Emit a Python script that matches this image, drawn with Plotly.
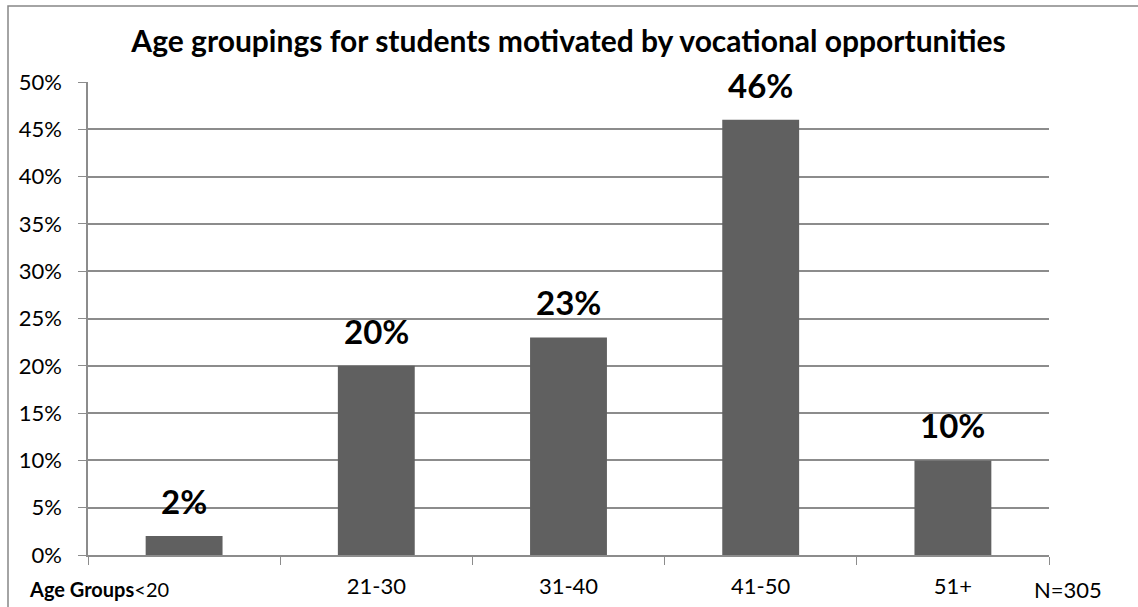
import plotly.graph_objects as go

categories = ["<20", "21-30", "31-40", "41-50", "51+"]
percentages = [2, 20, 23, 46, 10]
y_ticks = [0, 5, 10, 15, 20, 25, 30, 35, 40, 45, 50]
title_text = "Age groupings for students motivated by vocational opportunities"
axis_title = "Age Groups"
sample_note = "N=305"

W, H = 1138, 607
L, R, T, B = 88, 89, 82, 52
pw, ph = W - L - R, H - T - B

def px_x(x):
    return (x - L) / pw

def px_y(y):
    return 1 - (y - T) / ph

FONT = "Lato, Calibri, Carlito, sans-serif"
GRID = "#8c8c8c"
TICK_SIZE = 22

fig = go.Figure(go.Bar(
    x=categories,
    y=percentages,
    marker=dict(color="#606060", line=dict(width=0)),
    width=0.4,
    hoverinfo="x+y",
))

# value labels above each bar
value_labels = [
    dict(
        x=c, y=v, xref="x", yref="y",
        text=f"<b>{v}%</b>",
        xanchor="center", yanchor="bottom",
        yshift=13,
        showarrow=False,
        font=dict(family=FONT, size=33, color="#000000"),
    )
    for c, v in zip(categories, percentages)
]

# first category label sits next to the axis title, so it is drawn as an annotation
ticktext = [""] + categories[1:]

fig.update_layout(
    width=W, height=H,
    margin=dict(l=L, r=R, t=T, b=B, autoexpand=False),
    paper_bgcolor="white",
    plot_bgcolor="white",
    showlegend=False,
    font=dict(family=FONT, size=TICK_SIZE, color="#000000"),
    title=dict(
        text=f"<b>{title_text}</b>",
        x=0.5, xref="paper", xanchor="center",
        y=1 - 41 / H, yanchor="middle",
        font=dict(family=FONT, size=30, color="#000000"),
    ),
    xaxis=dict(
        type="category",
        automargin=False,
        tickmode="array",
        tickvals=categories,
        ticktext=ticktext,
        tickson="boundaries",
        ticks="outside",
        ticklen=8,
        tickcolor=GRID,
        showline=True,
        linecolor=GRID,
        linewidth=1.5,
        showgrid=False,
        tickfont=dict(family=FONT, size=TICK_SIZE),
        ticklabelstandoff=11,
        fixedrange=True,
    ),
    yaxis=dict(
        range=[0, 50],
        automargin=False,
        tickmode="array",
        tickvals=y_ticks,
        ticktext=[f"{v}%" for v in y_ticks],
        ticks="outside",
        ticklen=8,
        tickcolor=GRID,
        showline=True,
        linecolor=GRID,
        linewidth=1.5,
        showgrid=True,
        gridcolor=GRID,
        gridwidth=1.5,
        zeroline=False,
        ticklabelstandoff=12,
        tickfont=dict(family=FONT, size=TICK_SIZE),
        fixedrange=True,
    ),
    annotations=value_labels + [
        dict(
            text=f"<b>{axis_title}</b>{categories[0]}",
            xref="paper", yref="paper",
            x=px_x(171), y=px_y(589),
            xanchor="right", yanchor="middle",
            showarrow=False,
            font=dict(family=FONT, size=20, color="#000000"),
        ),
        dict(
            text=sample_note,
            xref="paper", yref="paper",
            x=px_x(1068), y=px_y(589),
            xanchor="center", yanchor="middle",
            showarrow=False,
            font=dict(family=FONT, size=TICK_SIZE, color="#000000"),
        ),
    ],
    shapes=[
        dict(
            type="rect", xref="paper", yref="paper",
            x0=px_x(8), x1=px_x(W + 10),
            y0=px_y(H + 10), y1=px_y(6),
            line=dict(color="#868686", width=1.5),
            fillcolor="rgba(0,0,0,0)",
            layer="below",
        ),
    ],
)

fig.write_html("out.html")
